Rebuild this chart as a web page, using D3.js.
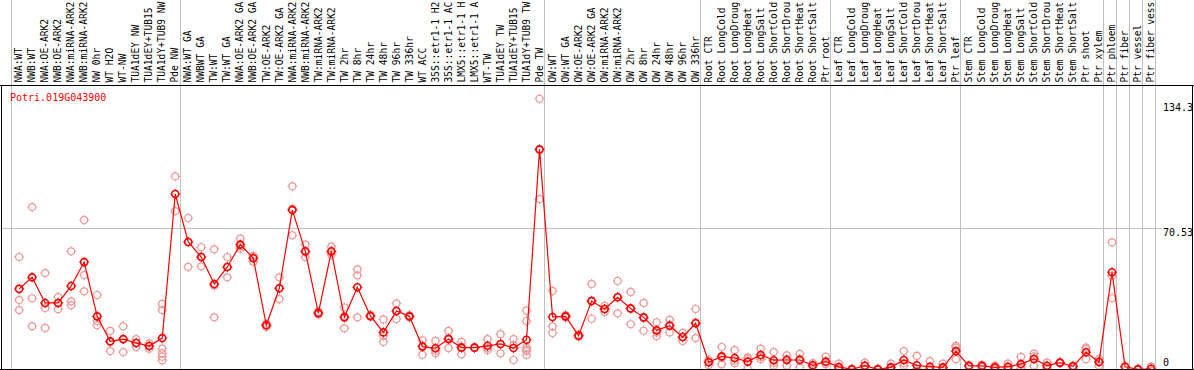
<!DOCTYPE html>
<html><head><meta charset="utf-8">
<script src="https://cdn.jsdelivr.net/npm/d3@7"></script>
<style>body{margin:0;background:#fff}svg{display:block}text{font-family:"DejaVu Sans Mono",monospace}</style>
</head><body>
<svg id="c" width="1194" height="370"></svg>
<script>
const geneName = "Potri.019G043900";
const categories = ["NWA:WT","NWB:WT","NWA:OE-ARK2","NWB:OE-ARK2","NWA:miRNA-ARK2","NWB:miRNA-ARK2","NW 0hr","WT H2O","WT-NW","TUA1dEY NW","TUA1dEY+TUB15","TUA1dY+TUB9 NW","Pde NW",
"NWA:WT GA","NWBWT GA","TW:WT","TW:WT GA","NWA:OE-ARK2 GA","NWB:OE-ARK2 GA","TW:OE-ARK2","TW:OE-ARK2 GA","NWA:miRNA-ARK2","NWB:miRNA-ARK2","TW:miRNA-ARK2","TW:miRNA-ARK2","TW 2hr","TW 8hr","TW 24hr","TW 48hr","TW 96hr","TW 336hr","WT ACC","35S::etr1-1 H2","35S::etr1-1 AC","LMX5::etr1-1 H","LMX5::etr1-1 A","WT-TW","TUA1dEY TW","TUA1dEY+TUB15","TUA1dY+TUB9 TW","Pde TW",
"OW:WT","OW:WT GA","OW:OE-ARK2","OW:OE-ARK2 GA","OW:miRNA-ARK2","OW:miRNA-ARK2","OW 2hr","OW 8hr","OW 24hr","OW 48hr","OW 96hr","OW 336hr",
"Root CTR","Root LongCold","Root LongDroug","Root LongHeat","Root LongSalt","Root ShortCold","Root ShortDrou","Root ShortHeat","Root ShortSalt","Ptr root",
"Leaf CTR","Leaf LongCold","Leaf LongDroug","Leaf LongHeat","Leaf LongSalt","Leaf ShortCold","Leaf ShortDrou","Leaf ShortHeat","Leaf ShortSalt","Ptr leaf",
"Stem CTR","Stem LongCold","Stem LongDroug","Stem LongHeat","Stem LongSalt","Stem ShortCold","Stem ShortDrou","Stem ShortHeat","Stem ShortSalt","Ptr shoot","Ptr xylem",
"Ptr phloem","Ptr fiber","Ptr vessel","Ptr fiber vess"];
const groupBreaks = [0,13,41,53,63,73,84,85,86,87,88];
const means = [40.7,46.4,33.8,33.8,42.1,53.9,27.2,14.9,16.0,14.1,12.6,16.5,87.4,
63.8,56.4,43.1,51.5,62.5,55.8,22.8,41.0,79.5,59.2,28.8,59.2,26.7,41.5,27.4,19.3,29.8,27.2,12.3,11.5,16.0,11.8,11.8,12.7,13.6,11.6,15.7,109.4,
26.9,27.2,17.7,34.7,30.8,36.6,31.1,26.7,20.3,22.6,17.0,23.8,
4.6,7.5,6.7,4.9,8.2,5.6,5.7,5.7,3.1,4.9,
2.3,1.1,2.9,1.1,2.1,5.7,3.1,2.4,2.1,10.1,
2.8,2.8,2.1,2.4,3.7,6.2,2.9,4.4,2.6,9.5,4.7,
48.9,2.4,1.1,1.4];
const replicates = [
[56.4,35.2,30.3],[81.0,36.1,22.3],[48.5,31.3,21.5],[36.7,33.8,30.7],[59.2,34.6,32.6],[74.6,47.5,39.5],[37.7,24.9,22.8],[20.0,14.6,10.1],[22.3,16.0,9.6],[16.0,14.1,12.1],[13.9,12.6,11.3],[33.3,30.3,11.3,9.0,7.3,5.6],[96.1,79.0],
[75.6,63.8,51.5],[61.2,56.4,51.8],[60.2,42.4,26.7],[56.4,51.5,46.4],[65.4,61.6,60.5],[57.0,56.3,54.1],[23.6,22.8,22.0],[46.4,41.0,35.7],[91.2,80.2,67.1],[62.5,58.7,56.4],[29.5,28.8,28.1],[61.5,58.6,57.5],[31.6,27.2,21.3],[50.3,47.4,26.7],[27.9,27.4,26.9],[25.7,17.6,14.6],[33.6,29.9,25.9],[27.7,27.2,26.7],[15.4,12.8,8.3],[15.1,10.3,9.0],[20.0,16.4,11.6],[14.6,12.3,8.5],[12.0,11.8,11.6],[16.0,11.6,10.6],[18.4,13.4,9.0],[16.0,13.1,5.7],[30.0,24.9,11.8,10.8,10.1,8.2],[134.3,109.0,84.9],
[39.7,22.3,19.0],[27.8,27.2,26.6],[18.2,17.7,17.2],[43.1,34.9,26.0],[32.4,30.8,29.3],[44.6,36.6,28.7],[39.2,30.9,23.3],[33.8,26.3,20.1],[24.3,19.2,17.4],[25.5,23.0,19.3],[19.1,16.9,15.1],[30.8,24.2,16.5],
[5.7,4.9,3.2],[12.1,6.9,3.6],[10.6,5.4,4.1],[7.0,6.3,1.4],[11.3,7.2,6.1],[9.6,4.3,2.9],[8.0,6.2,2.9],[8.7,6.3,2.1],[4.2,2.7,2.4],[7.3,3.7,3.7],
[3.9,1.6,1.4],[1.4,1.1,0.8],[4.4,2.9,1.4],[1.3,1.1,0.9],[3.9,1.6,0.8],[10.1,4.2,2.9],[7.7,1.4,0.2],[5.2,1.4,0.6],[3.9,1.4,1.0],[12.7,11.8,6.1],
[3.1,2.8,2.5],[3.3,2.8,2.3],[2.9,2.1,1.4],[3.9,1.8,1.4],[7.2,2.4,1.4],[8.8,7.5,2.9],[4.4,2.1,1.4],[4.6,4.4,4.1],[2.9,2.6,2.1],[11.8,11.0,6.1],[6.1,5.1,2.9],
[63.6,47.2,36.1],[2.6,2.4,2.2],[1.3,1.1,0.9],[2.4,1.4,0.4]];
const yTickValues = [134.3, 70.53, 0];
const yTickLabels = ["134.3", "70.53", "0"];
const yMaxDomain = 141.06;

const svg = d3.select("#c");
const W = 1194, H = 370, plotTop = 85, plotBottom = 369;
const xEdge = d3.scaleLinear().domain([0, 88]).range([10.5, 10.5 + 88*13.011]);
const xPt = i => xEdge(i) + 8.6;
const y = d3.scaleLinear().domain([0, yMaxDomain]).range([371.6, 85]);

// group separators (full height)
svg.append("g").selectAll("line").data(groupBreaks).join("line")
  .attr("x1", d => Math.round(xEdge(d)) + 0.5).attr("x2", d => Math.round(xEdge(d)) + 0.5)
  .attr("y1", 0).attr("y2", plotBottom).attr("stroke", "#c0c0c0").attr("stroke-width", 1);

// horizontal gridline at middle tick
svg.append("line").attr("x1", 1).attr("x2", 1162)
  .attr("y1", Math.round(y(70.53)) + 0.5).attr("y2", Math.round(y(70.53)) + 0.5)
  .attr("stroke", "#c0c0c0");

// category labels
svg.append("g").selectAll("text").data(categories).join("text")
  .attr("transform", (d, i) => `translate(${xPt(i) + 3.2},82.5) rotate(-90)`)
  .attr("font-size", 9.6).attr("fill", "#000").text(d => d);

// y tick labels
const yLabelBase = [12, 8, -6];
svg.append("g").selectAll("text").data(yTickValues).join("text")
  .attr("x", 1163).attr("y", (d, i) => y(d) + yLabelBase[i])
  .attr("font-size", 10).attr("fill", "#000").text((d, i) => yTickLabels[i]);

const plot = svg.append("g");
function marker(g, cx, cy, color, sw) {
  g.append("circle").attr("cx", cx).attr("cy", cy).attr("r", 3.5)
    .attr("fill", "none").attr("stroke", color).attr("stroke-width", sw);
  g.append("path").attr("d", `M${cx},${cy-5}v1.6M${cx},${cy+5}v-1.6M${cx-5},${cy}h1.6M${cx+5},${cy}h-1.6`)
    .attr("stroke", color).attr("stroke-width", 1);
}
// replicates
const repG = plot.append("g");
replicates.forEach((arr, i) => arr.forEach(v => marker(repG, xPt(i), y(v), "#ee9a9a", 1.2)));
// line of means
plot.append("path").datum(means)
  .attr("d", d3.line().x((d, i) => xPt(i)).y(d => y(d)))
  .attr("fill", "none").attr("stroke", "#ff0000").attr("stroke-width", 1.2);
const meanG = plot.append("g");
means.forEach((v, i) => marker(meanG, xPt(i), y(v), "#ff0000", 1.6));

// title
svg.append("text").attr("x", 10).attr("y", 100.5).attr("font-size", 10)
  .attr("fill", "#ff0000").text(geneName);

// black frame
svg.append("line").attr("x1", 0).attr("x2", W).attr("y1", plotTop + 0.5).attr("y2", plotTop + 0.5).attr("stroke", "#000");
svg.append("line").attr("x1", 1.5).attr("x2", 1.5).attr("y1", plotTop).attr("y2", plotBottom + 1).attr("stroke", "#000");
svg.append("line").attr("x1", 1192.5).attr("x2", 1192.5).attr("y1", plotTop).attr("y2", plotBottom + 1).attr("stroke", "#000");
svg.append("line").attr("x1", 0).attr("x2", W).attr("y1", plotBottom + 0.5).attr("y2", plotBottom + 0.5).attr("stroke", "#000");
</script>
</body></html>
